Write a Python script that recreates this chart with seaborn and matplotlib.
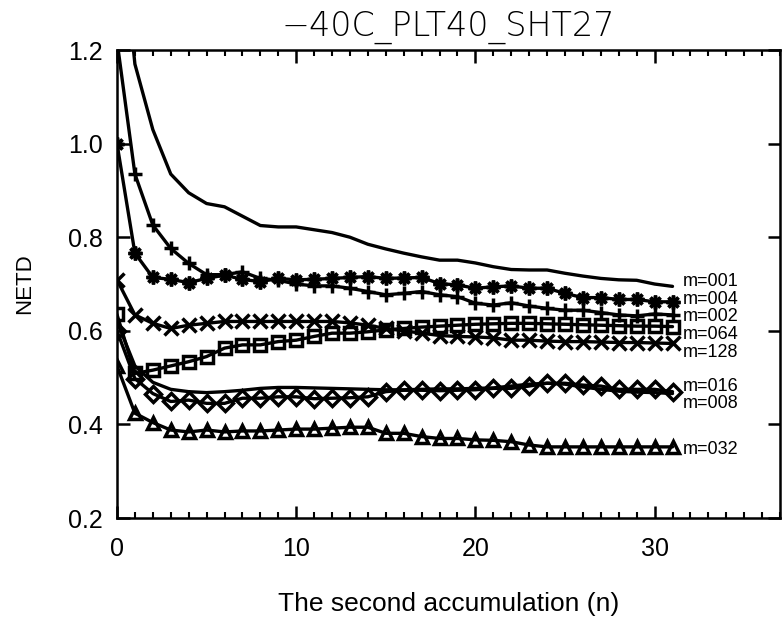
import numpy as np
import pandas as pd
import matplotlib
matplotlib.use('Agg')
import matplotlib.pyplot as plt
import seaborn as sns
from matplotlib.ticker import MultipleLocator, FormatStrFormatter

sns.set_style('ticks')
plt.rcParams['font.family'] = ['Liberation Sans', 'DejaVu Sans']
plt.rcParams['text.color'] = 'black'
plt.rcParams['axes.labelcolor'] = 'black'
plt.rcParams['xtick.color'] = 'black'
plt.rcParams['ytick.color'] = 'black'

# ─── Data ───
n = list(range(32))
m001 = [1.55, 1.17, 1.03, 0.935, 0.895, 0.872, 0.865, 0.845, 0.825, 0.822, 0.822, 0.816, 0.81, 0.80, 0.785, 0.775,
        0.766, 0.758, 0.751, 0.751, 0.745, 0.737, 0.731, 0.73, 0.73, 0.723, 0.717, 0.712, 0.709, 0.708, 0.70, 0.695]
m002 = [1.22, 0.935, 0.826, 0.776, 0.744, 0.72, 0.72, 0.726, 0.712, 0.708, 0.70, 0.696, 0.696, 0.691, 0.684, 0.677,
        0.68, 0.684, 0.677, 0.673, 0.659, 0.655, 0.66, 0.653, 0.648, 0.644, 0.644, 0.639, 0.634, 0.632, 0.636, 0.634]
m004 = [1.0, 0.766, 0.714, 0.71, 0.703, 0.712, 0.719, 0.71, 0.705, 0.712, 0.709, 0.71, 0.712, 0.714, 0.716, 0.712,
        0.713, 0.714, 0.701, 0.698, 0.691, 0.694, 0.696, 0.691, 0.691, 0.68, 0.671, 0.671, 0.667, 0.667, 0.662, 0.662]
m008 = [0.62, 0.525, 0.49, 0.475, 0.47, 0.468, 0.47, 0.473, 0.477, 0.479, 0.479, 0.478, 0.477, 0.476, 0.475, 0.474,
        0.474, 0.475, 0.476, 0.476, 0.477, 0.478, 0.482, 0.486, 0.488, 0.486, 0.48, 0.475, 0.471, 0.469, 0.468, 0.466]
m016 = [0.60, 0.498, 0.466, 0.449, 0.452, 0.445, 0.445, 0.456, 0.456, 0.459, 0.459, 0.455, 0.456, 0.457, 0.459, 0.47,
        0.473, 0.473, 0.472, 0.473, 0.474, 0.477, 0.477, 0.482, 0.488, 0.488, 0.484, 0.482, 0.475, 0.475, 0.475, 0.47]
m032 = [0.525, 0.424, 0.404, 0.388, 0.384, 0.388, 0.384, 0.386, 0.386, 0.388, 0.39, 0.39, 0.392, 0.394, 0.394, 0.381,
        0.381, 0.374, 0.37, 0.37, 0.367, 0.366, 0.363, 0.356, 0.352, 0.352, 0.352, 0.352, 0.352, 0.352, 0.352, 0.352]
m064 = [0.635, 0.509, 0.516, 0.525, 0.534, 0.545, 0.563, 0.57, 0.57, 0.577, 0.58, 0.588, 0.595, 0.595, 0.598, 0.602,
        0.605, 0.608, 0.61, 0.612, 0.614, 0.615, 0.616, 0.616, 0.615, 0.614, 0.613, 0.612, 0.611, 0.61, 0.61, 0.609]
m128 = [0.709, 0.634, 0.616, 0.605, 0.612, 0.616, 0.62, 0.62, 0.62, 0.62, 0.62, 0.62, 0.62, 0.617, 0.612, 0.605,
        0.60, 0.595, 0.59, 0.588, 0.587, 0.585, 0.58, 0.58, 0.578, 0.577, 0.577, 0.576, 0.575, 0.575, 0.574, 0.573]

series = {'m=001': m001, 'm=002': m002, 'm=004': m004, 'm=008': m008,
          'm=016': m016, 'm=032': m032, 'm=064': m064, 'm=128': m128}

# IDL-like plot symbols
markers = {'m=001': None, 'm=002': '+', 'm=004': (8, 2, 0), 'm=008': None,
           'm=016': 'D', 'm=032': '^', 'm=064': 's', 'm=128': 'x'}
msizes = {'m=002': 10, 'm=004': 10, 'm=016': 8.5, 'm=032': 9, 'm=064': 9, 'm=128': 10}

df = pd.DataFrame({'n': np.tile(n, len(series)),
                   'NETD': np.concatenate([series[k] for k in series]),
                   'm': np.repeat(list(series.keys()), len(n))})

# ─── Plot ───
fig = plt.figure(figsize=(7.83, 6.23), dpi=100)
ax = fig.add_axes([0.1494, 0.1685, 0.8468, 0.7512])

for key in series:
    sub = df[df['m'] == key]
    mk = markers[key]
    kw = {}
    if mk is not None:
        kw = dict(marker=mk, markersize=msizes[key], markerfacecolor='none',
                  markeredgecolor='black', markeredgewidth=2.5)
    sns.lineplot(data=sub, x='n', y='NETD', ax=ax, color='black', linewidth=2.4, **kw)

ax.set_xlim(0, 37)
ax.set_ylim(0.2, 1.2)

# labels at the right end, spread so they do not overlap
ends = sorted(((series[k][-1], k) for k in series), reverse=True)
gap = 0.038
clusters = [[ends[0]]]
for v, k in ends[1:]:
    if clusters[-1][-1][0] - v < gap:
        clusters[-1].append((v, k))
    else:
        clusters.append([(v, k)])
for cl in clusters:
    mean = np.mean([v for v, _ in cl])
    top = mean + gap * (len(cl) - 1) / 2
    for i, (v, k) in enumerate(cl):
        ax.text(31.6, top - i * gap - 0.005, k, fontsize=13, va='center', ha='left')

ax.set_title('\u221240C_PLT40_SHT27', fontsize=24, pad=10,
             family='DejaVu Sans', fontweight='light')
ax.set_xlabel('The second accumulation (n)', fontsize=19, labelpad=22)
ax.set_ylabel('NETD', fontsize=16, labelpad=24)

ax.xaxis.set_major_locator(MultipleLocator(10))
ax.xaxis.set_minor_locator(MultipleLocator(1))
ax.yaxis.set_major_locator(MultipleLocator(0.2))
ax.yaxis.set_major_formatter(FormatStrFormatter('%.1f'))
ax.tick_params(axis='both', which='major', direction='in', length=9, width=1.8,
               top=True, right=True, labelsize=18, pad=10)
ax.tick_params(axis='x', which='major', pad=14)
ax.tick_params(axis='x', which='minor', direction='in', length=4.5, width=1.5, top=True)
for sp in ax.spines.values():
    sp.set_linewidth(1.8)
    sp.set_color('black')

fig.savefig('out.png', dpi=100)
